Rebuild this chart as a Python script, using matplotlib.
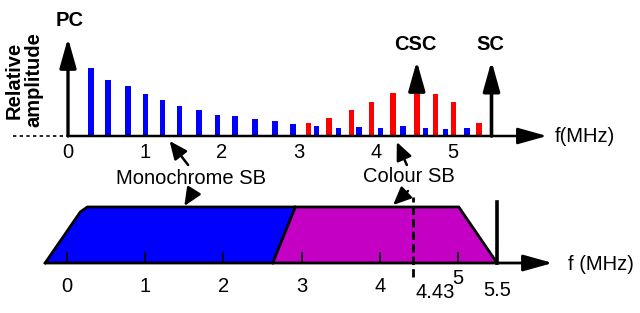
import matplotlib
matplotlib.use('Agg')
import matplotlib.pyplot as plt
import numpy as np

plt.rcParams['font.family'] = ['Liberation Sans', 'DejaVu Sans']

# ---- data ----
# luminance (monochrome) sideband lines, MHz / relative amplitude
lum_f = [0.30, 0.52, 0.78, 1.01, 1.23, 1.45, 1.70, 1.94, 2.17, 2.43,
         2.69, 2.92, 3.23, 3.51, 3.78, 4.06, 4.35, 4.64, 4.90, 5.18]
lum_a = [68, 56, 50, 42, 36, 30, 26, 21, 20, 17,
         15, 12, 10, 8, 9, 8, 10, 8, 7, 8]
# chrominance (colour) sideband lines
chr_f = [3.12, 3.39, 3.68, 3.94, 4.22, 4.53, 4.77, 5.01, 5.34]
chr_a = [13, 18, 26, 34, 43, 56, 42, 34, 13]
pc_f, pc_a = 0.0, 98
csc_f, csc_a = 4.53, 75
sc_f, sc_a = 5.5, 75
ticks_top = [0, 1, 2, 3, 4, 5]

# band shape (bottom panel)
mono_f = [-0.28, 0.17, 0.26, 2.92, 2.63]
mono_h = [0, 51, 56, 56, 0]
col_f = [2.63, 2.92, 5.01, 5.5]
col_h = [0, 56, 56, 0]
ticks_bot = [0, 1, 2, 3, 4]
fsc = 4.43
f_top = 5.5

fig = plt.figure(figsize=(6.4, 3.13), dpi=100)
split = 153 / 313.
ax = fig.add_axes([0, split, 1, 1 - split])
ax2 = fig.add_axes([0, 0, 1, split])
ax.set_xlim(-68 / 77., 572 / 77.)
ax.set_ylim(-24, 136)
ax2.set_xlim(-67 / 78.2, 573 / 78.2)
ax2.set_ylim(-50, 103)
ax.axis('off')
ax2.axis('off')

FS = 14.5
head = dict(arrowstyle='-|>,head_length=1.5,head_width=0.42',
            mutation_scale=12, color='k', shrinkA=0, shrinkB=0)

# ---- top: spectrum ----
ax.bar(lum_f, lum_a, width=0.07, color='#0000ff', zorder=2)
ax.bar(chr_f, chr_a, width=0.07, color='#ff0000', zorder=2)
ax.plot([-0.71, 0], [0, 0], color='k', lw=1.2, ls=(0, (2, 2)))
ax.annotate('', xy=(6.22, 0), xytext=(0, 0),
            arrowprops=dict(head, lw=1.8))
ax.annotate('', xy=(pc_f, pc_a), xytext=(pc_f, 0),
            arrowprops=dict(head, lw=2.4), zorder=3)
ax.annotate('', xy=(csc_f, csc_a), xytext=(csc_f, chr_a[5]),
            arrowprops=dict(head, lw=2.4), zorder=3)
ax.annotate('', xy=(sc_f, sc_a), xytext=(sc_f, 0),
            arrowprops=dict(head, lw=2.6), zorder=3)
ax.text(pc_f + 0.02, 116, 'PC', ha='center', va='center', fontsize=FS,
        fontweight='bold')
ax.text(csc_f - 0.02, 91, 'CSC', ha='center', va='center', fontsize=FS,
        fontweight='bold')
ax.text(sc_f - 0.01, 91, 'SC', ha='center', va='center', fontsize=FS,
        fontweight='bold')
ax.text(-0.57, 56, 'Relative\namplitude', rotation=90, ha='center',
        va='center', fontsize=FS, linespacing=1.0, fontweight='bold')
ax.text(6.32, 0, 'f(MHz)', ha='left', va='center', fontsize=FS)
for t in ticks_top:
    ax.text(t, -17, str(t), ha='center', va='center', fontsize=FS)

small = dict(arrowstyle='-|>,head_length=0.9,head_width=0.4',
             mutation_scale=12, color='k', lw=1.8, shrinkA=0, shrinkB=0)
ax.annotate('', xy=(1.32, -5), xytext=(1.56, -29),
            arrowprops=small, annotation_clip=False)
ax.annotate('', xy=(4.27, -6), xytext=(4.40, -29),
            arrowprops=small, annotation_clip=False)

# ---- bottom: band occupancy ----
ax2.fill(mono_f, mono_h, color='#0000ff', lw=0, zorder=1)
ax2.fill(col_f, col_h, color='#c400c4', lw=0, zorder=1)
ax2.plot(mono_f[:3] + col_f[2:], mono_h[:3] + col_h[2:], color='k',
         lw=2, zorder=3, solid_joinstyle='round')
ax2.plot(col_f[:2], col_h[:2], color='k', lw=2, zorder=3)
ax2.annotate('', xy=(6.21, 0), xytext=(mono_f[0], 0),
             arrowprops=dict(head, lw=2), zorder=3)
ax2.plot([f_top, f_top], [0, 61], color='k', lw=2.6, zorder=3)
ax2.plot([fsc, fsc], [-14, 66], color='k', lw=2, ls=(0, (3, 1.5)), zorder=3)
for t in ticks_bot + [5]:
    ax2.plot([t, t], [0, 10], color='k', lw=1.2, zorder=2)
for t in ticks_bot:
    ax2.text(t, -24, str(t), ha='center', va='center', fontsize=FS)
ax2.text(5.0, -15, '5', ha='center', va='center', fontsize=FS)
ax2.text(fsc + 0.03, -29, '4.43', ha='left', va='center', fontsize=FS)
ax2.text(f_top, -27, '5.5', ha='center', va='center', fontsize=FS)
ax2.text(6.41, -2, 'f (MHz)', ha='left', va='center', fontsize=FS)
ax2.text(1.58, 85, 'Monochrome SB', ha='center', va='center', fontsize=FS)
ax2.text(4.37, 86, 'Colour SB', ha='center', va='center', fontsize=FS)
ax2.annotate('', xy=(1.50, 57), xytext=(1.62, 72), arrowprops=small)
ax2.annotate('', xy=(4.17, 58), xytext=(4.36, 72), arrowprops=small)

fig.savefig('out.png', dpi=100)
